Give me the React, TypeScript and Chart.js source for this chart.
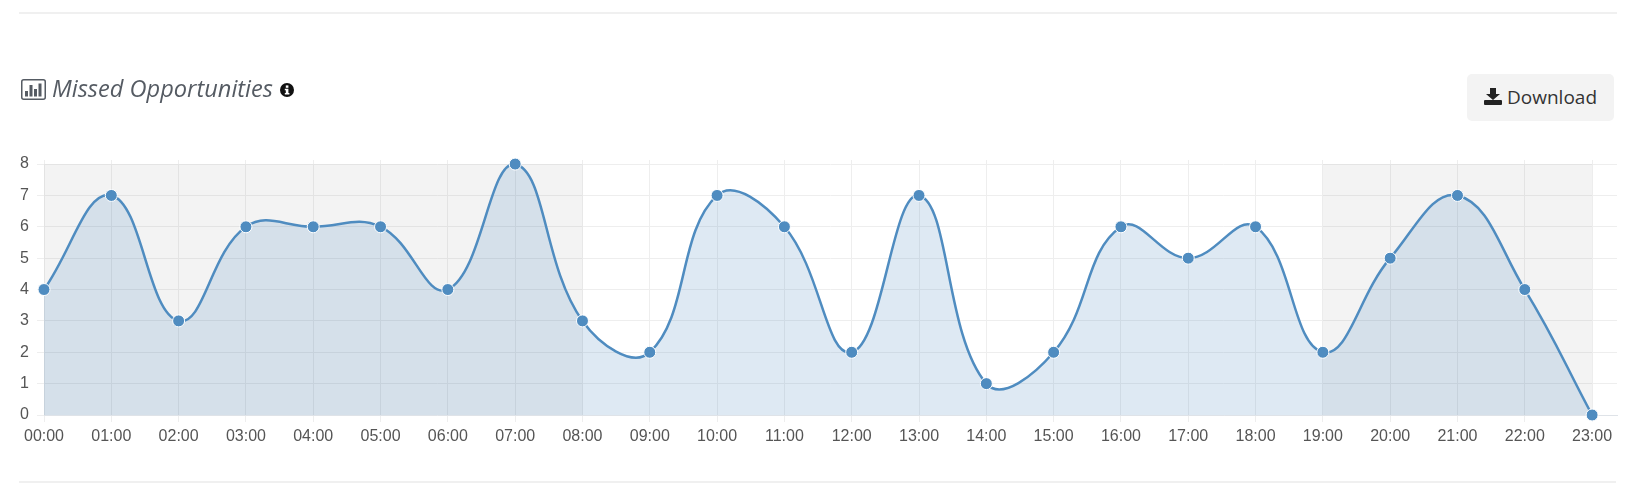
import React, { useEffect, useRef } from "react";
import { Chart, registerables } from "chart.js";

Chart.register(...registerables);

const hours = ["00:00","01:00","02:00","03:00","04:00","05:00","06:00","07:00","08:00","09:00","10:00","11:00","12:00","13:00","14:00","15:00","16:00","17:00","18:00","19:00","20:00","21:00","22:00","23:00"];
const missed = [4,7,3,6,6,6,4,8,3,2,7,6,2,7,1,2,6,5,6,2,5,7,4,0];
const nightBands = [[0,8],[19,23]];
const yTop = 8;

const bandsPlugin = {
  id: "bands",
  beforeDatasetsDraw(chart: any) {
    const { ctx, scales: { x, y } } = chart;
    ctx.save();
    ctx.fillStyle = "rgba(120,120,120,0.085)";
    nightBands.forEach(([a, b]) => {
      ctx.fillRect(x.getPixelForValue(a), y.getPixelForValue(yTop), x.getPixelForValue(b) - x.getPixelForValue(a), y.getPixelForValue(0) - y.getPixelForValue(yTop));
    });
    ctx.restore();
  },
};

export default function App() {
  const ref = useRef<HTMLCanvasElement>(null);
  useEffect(() => {
    const chart = new Chart(ref.current!, {
      type: "line",
      data: {
        datasets: [{
          data: missed.map((v, i) => ({ x: i, y: v })),
          borderColor: "#4f8cc0",
          borderWidth: 2.5,
          backgroundColor: "rgba(79,140,192,0.19)",
          fill: "origin",
          tension: 0.42,
          pointRadius: 6,
          pointBorderWidth: 1,
          pointBackgroundColor: "#4f8cc0",
          pointBorderColor: "#ffffff",
          clip: false,
        }],
      },
      options: {
        animation: false,
        responsive: false,
        devicePixelRatio: 1,
        layout: { padding: { left: 0, right: 23, top: 160, bottom: 0 } },
        plugins: { legend: { display: false }, tooltip: { enabled: false } },
        scales: {
          x: {
            type: "linear",
            min: 0,
            max: 23.37,
            afterBuildTicks: (s: any) => { s.ticks = hours.map((_, i) => ({ value: i })); },
            afterFit: (s: any) => { s.height = 81; },
            grid: { color: "#eeeeee", tickLength: 7, lineWidth: 1 },
            border: { color: "#dfe3e8" },
            ticks: {
              autoSkip: false,
              maxRotation: 0,
              padding: 5,
              color: "#555555",
              font: { family: "'Liberation Sans'", size: 16 },
              callback: (v: any) => hours[v] ?? "",
            },
          },
          y: {
            min: 0,
            max: 8.13,
            afterBuildTicks: (s: any) => { s.ticks = [0,1,2,3,4,5,6,7,8].map((value) => ({ value })); },
            afterFit: (s: any) => { s.width = 44; },
            grid: { color: "#eeeeee", tickLength: 7, lineWidth: 1 },
            border: { display: false },
            ticks: {
              padding: 8,
              color: "#555555",
              font: { family: "'Liberation Sans'", size: 16 },
            },
          },
        },
      },
      plugins: [bandsPlugin],
    } as any);
    return () => chart.destroy();
  }, []);

  return (
    <div style={{ position: "absolute", left: 0, top: 0, width: 1640, height: 496, background: "#fff", overflow: "hidden" }}>
      <div style={{ position: "absolute", left: 19, top: 12, width: 1598, height: 2, background: "#f0f0f0" }} />
      <div style={{ position: "absolute", left: 19, top: 481, width: 1597, height: 2, background: "#f0f0f0" }} />
      <canvas ref={ref} width={1640} height={496} style={{ position: "absolute", left: 0, top: 0, display: "block" }} />
      <svg width="25" height="21" viewBox="0 0 25 21" style={{ position: "absolute", left: 21, top: 79 }}>
        <rect x="0.75" y="0.75" width="23.5" height="19.5" rx="2" fill="none" stroke="#555b63" strokeWidth="1.5" />
        <rect x="4" y="12" width="3" height="5.5" fill="#555b63" />
        <rect x="8.5" y="6" width="3" height="11.5" fill="#555b63" />
        <rect x="13" y="10" width="3" height="7.5" fill="#555b63" />
        <rect x="17.5" y="4.5" width="3" height="13" fill="#555b63" />
      </svg>
      <div style={{ position: "absolute", left: 52, top: 71, fontFamily: "'Open Sans'", fontStyle: "italic", fontSize: 23.6, lineHeight: "34px", color: "#555b63", whiteSpace: "nowrap" }}>
        Missed Opportunities
      </div>
      <svg width="14" height="14" viewBox="0 0 14 14" style={{ position: "absolute", left: 280, top: 83 }}>
        <circle cx="7" cy="7" r="7" fill="#111" />
        <rect x="5.8" y="2.4" width="2.6" height="2.4" fill="#fff" />
        <path d="M4.8 5.8H8.4V10H9.4V11.5H4.8V10H5.8V7.2H4.8Z" fill="#fff" />
      </svg>
      <div style={{ position: "absolute", left: 1467, top: 74, width: 147, height: 47, background: "#f3f3f3", borderRadius: 5 }}>
        <svg width="18" height="17" viewBox="0 0 18 17" style={{ position: "absolute", left: 17, top: 14 }}>
          <path d="M6 0H12V6H16L9 12L2 6H6Z" fill="#222" />
          <rect x="0" y="12" width="18" height="5" rx="1" fill="#222" />
        </svg>
        <div style={{ position: "absolute", left: 40, top: 9, fontFamily: "'Open Sans'", fontSize: 19, lineHeight: "28px", color: "#333", whiteSpace: "nowrap" }}>
          Download
        </div>
      </div>
    </div>
  );
}
